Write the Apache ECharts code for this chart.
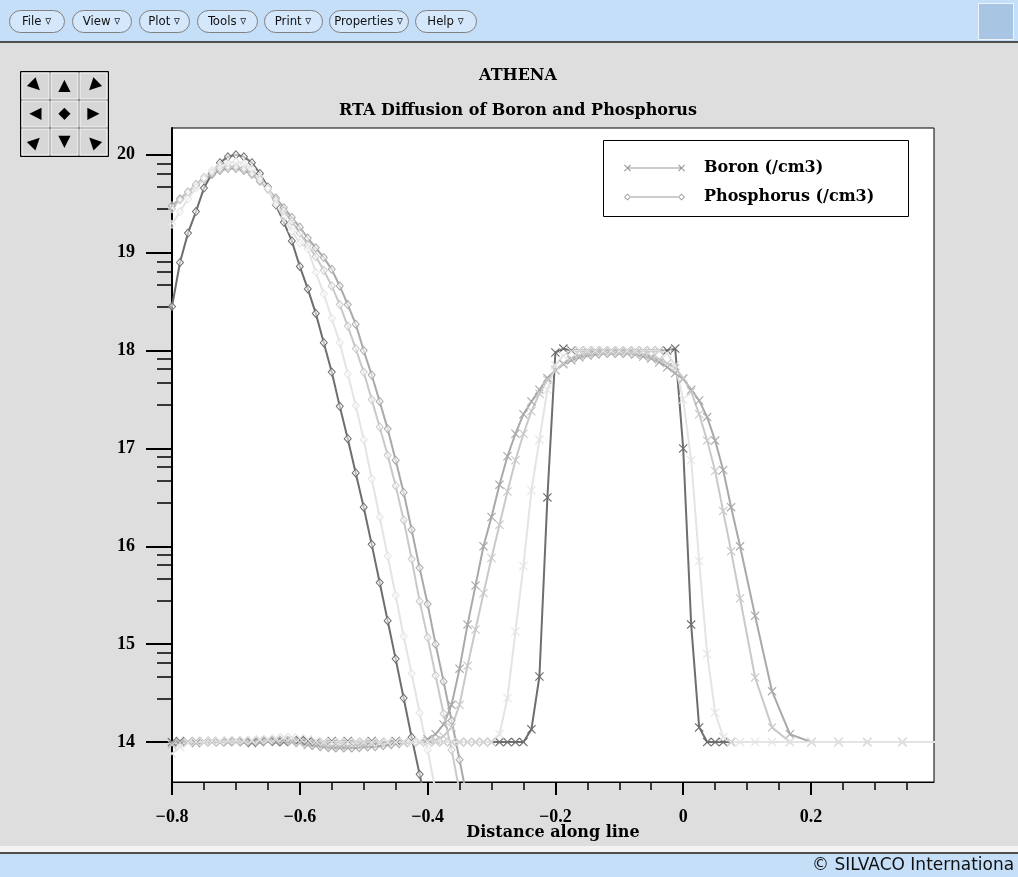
<!DOCTYPE html>
<html><head><meta charset="utf-8">
<script src="https://cdn.jsdelivr.net/npm/echarts@6/dist/echarts.min.js"></script>
<style>html,body{margin:0;padding:0;background:#dedede;}#c{width:1018px;height:877px;}</style>
</head><body><div id="c"></div>
<script>
// ---------------- data ----------------
const xGrid = [-0.8,-0.7875,-0.775,-0.7625,-0.75,-0.7375,-0.725,-0.7125,-0.7,-0.6875,
 -0.675,-0.6625,-0.65,-0.6375,-0.625,-0.6125,-0.6,-0.5875,-0.575,-0.5625,
 -0.55,-0.5375,-0.525,-0.5125,-0.5,-0.4875,-0.475,-0.4625,-0.45,-0.4375,
 -0.425,-0.4125,-0.4,-0.3875,-0.375,-0.3625,-0.35,-0.3375,-0.325,-0.3125,
 -0.3,-0.2875,-0.275,-0.2625,-0.25,-0.2375,-0.225,-0.2125,-0.2,-0.1875,
 -0.175,-0.1625,-0.15,-0.1375,-0.125,-0.1125,-0.1,-0.0875,-0.075,-0.0625,
 -0.05,-0.0375,-0.025,-0.0125,0,0.0125,0.025,0.0375,0.05,0.0625,
 0.075,0.089,0.1125,0.139,0.167,0.201,0.243,0.288,0.343,0.41];

// Boron, initial profile (dark)
const boronT0 = [14.0,14.01,14.0,13.99,14.0,14.01,14.0,14.0,14.01,14.0,
 13.99,14.0,14.01,14.0,14.0,14.01,14.02,14.01,14.0,14.0,
 14.01,14.0,14.01,14.0,14.0,14.01,14.0,14.0,14.01,14.0,
 14.0,14.0,14.0,14.0,14.0,14.0,14.0,14.0,14.0,14.0,
 14.0,14.0,14.0,14.0,14.0,14.13,14.67,16.5,17.98,18.02,
 18.0,18.0,18.0,18.0,18.0,18.0,18.0,18.0,18.0,18.0,
 18.0,18.0,18.0,18.02,17.0,15.2,14.15,14.0,14.0,14.0,14.0];
// Boron, lightest curve
const boronT1 = [13.88,13.95,13.99,14.0,14.0,14.01,14.01,14.02,14.02,14.02,
 14.02,14.03,14.03,14.04,14.05,14.05,14.04,14.03,14.01,14.0,
 14.0,14.0,14.0,14.0,14.0,14.0,14.0,14.0,14.0,14.0,
 14.0,14.0,14.0,14.0,14.0,14.0,14.0,14.0,14.0,14.0,
 14.0,14.08,14.45,15.13,15.8,16.57,17.09,17.6,17.85,17.95,
 17.99,18.0,18.0,18.0,18.0,18.0,18.0,18.0,18.0,18.0,
 18.0,18.0,17.97,17.85,17.5,16.88,15.85,14.9,14.3,14.05,
 14.0,14.0,14.0,14.0,14.0,14.0,14.0,14.0,14.0,14.0];
// Boron, light grey curve
const boronT2 = [13.97,13.99,14.0,14.0,14.01,14.01,14.0,14.0,14.0,14.01,
 14.01,14.02,14.02,14.02,14.02,14.01,14.0,13.99,13.98,13.97,
 13.96,13.96,13.96,13.97,13.97,13.98,13.99,14.0,14.0,14.0,
 14.0,14.0,14.0,14.02,14.06,14.15,14.38,14.78,15.15,15.52,
 15.88,16.22,16.56,16.88,17.15,17.38,17.56,17.7,17.8,17.87,
 17.92,17.95,17.97,17.98,17.98,17.98,17.98,17.98,17.97,17.96,
 17.94,17.91,17.87,17.82,17.72,17.58,17.35,17.08,16.77,16.36,
 15.95,15.47,14.66,14.15,14.0,14.0,14.0,14.0,14.0,14.0];
// Boron, medium grey curve
const boronT3 = [13.99,14.0,14.0,14.01,14.0,14.0,14.0,14.01,14.01,14.0,
 14.0,14.0,14.01,14.01,14.01,14.0,13.99,13.97,13.96,13.95,
 13.94,13.94,13.94,13.94,13.95,13.95,13.96,13.97,13.98,13.99,
 14.0,14.0,14.03,14.08,14.18,14.38,14.75,15.2,15.6,16.0,
 16.3,16.63,16.92,17.15,17.35,17.48,17.6,17.72,17.8,17.86,
 17.9,17.93,17.95,17.96,17.97,17.97,17.97,17.97,17.96,17.94,
 17.92,17.88,17.83,17.77,17.71,17.6,17.49,17.32,17.08,16.78,
 16.4,16.0,15.29,14.52,14.08,14.0,14.0,14.0,14.0,14.0];

// Phosphorus
const phosT0 = [18.45,18.9,19.2,19.42,19.66,19.81,19.92,19.98,20.0,19.98,
 19.92,19.81,19.67,19.49,19.31,19.12,18.86,18.63,18.38,18.08,
 17.78,17.43,17.1,16.75,16.4,16.02,15.63,15.24,14.85,14.45,
 14.05,13.67,13.3];
const phosT1 = [19.29,19.42,19.55,19.66,19.76,19.84,19.89,19.92,19.93,19.91,
 19.86,19.77,19.66,19.5,19.36,19.22,19.1,19.04,18.8,18.58,
 18.33,18.08,17.76,17.44,17.09,16.69,16.3,15.9,15.5,15.08,
 14.7,14.3,13.92,13.5];
const phosT2 = [19.45,19.54,19.62,19.7,19.77,19.82,19.86,19.88,19.88,19.86,
 19.81,19.74,19.65,19.54,19.43,19.32,19.2,19.08,18.96,18.82,
 18.66,18.47,18.25,18.02,17.78,17.5,17.22,16.93,16.62,16.27,
 15.87,15.44,15.07,14.68,14.29,13.92,13.5];
const phosT3 = [19.48,19.55,19.62,19.69,19.75,19.8,19.84,19.86,19.86,19.84,
 19.8,19.73,19.65,19.56,19.46,19.36,19.26,19.15,19.05,18.95,
 18.83,18.66,18.47,18.27,18.0,17.75,17.48,17.2,16.88,16.55,
 16.17,15.78,15.41,15.0,14.62,14.22,13.82,13.4];

const yMajorTicks = [14,15,16,17,18,19,20];
const yMinorTicks = [19.912,19.81,19.672,19.444, 18.912,18.81,18.672,18.444,
 17.912,17.81,17.672,17.444, 16.912,16.81,16.672,16.444,
 15.912,15.81,15.672,15.444, 14.912,14.81,14.672,14.444];
const xMajorTicks = [-0.8,-0.6,-0.4,-0.2,0,0.2];
const xMinorTicks = [-0.75,-0.7,-0.65,-0.55,-0.5,-0.45,-0.35,-0.3,-0.25,-0.15,-0.1,-0.05,0.05,0.1,0.15,0.25,0.3,0.35];

const menuItems = ['File','View','Plot','Tools','Print','Properties','Help'];

// ---------------- chart ----------------
const chart = echarts.init(document.getElementById('c'), null, {renderer:'canvas'});
const pairs = arr => arr.map((v,i) => [xGrid[i], v]);
const C = {t0:'#6e6e6e', t1:'#e4e4e4', t2:'#c9c9c9', t3:'#a9a9a9'};
const X_SYMBOL = 'path://M0,0.9L0.9,0L5,4.1L9.1,0L10,0.9L5.9,5L10,9.1L9.1,10L5,5.9L0.9,10L0,9.1L4.1,5Z';
const BORON_ICON = 'path://M0.5,1.8L1.3,1L7.5,7.2L6.7,8Z M6.7,1L7.5,1.8L1.3,8L0.5,7.2Z M4,4L58,4L58,5L4,5Z M54.5,1.8L55.3,1L61.5,7.2L60.7,8Z M60.7,1L61.5,1.8L55.3,8L54.5,7.2Z M75.5,4.5L75.5,4.5Z';
const PHOS_ICON = 'path://M4,1L7.5,4.5L4,8L0.5,4.5Z M4,2.2L1.7,4.5L4,6.8L6.3,4.5Z M7.5,4L54.5,4L54.5,5L7.5,5Z M58,1L61.5,4.5L58,8L54.5,4.5Z M58,2.2L55.7,4.5L58,6.8L60.3,4.5Z M75.5,4.5L75.5,4.5Z';

function bSeries(arr, col){
  return {type:'line', name:'Boron (/cm3)', data:pairs(arr), symbol:X_SYMBOL, symbolSize:9,
    showAllSymbol:true, clip:true, silent:true,
    lineStyle:{color:col, width:2}, itemStyle:{color:col, borderWidth:0}};
}
function pSeries(arr, col){
  return {type:'line', name:'Phosphorus (/cm3)', data:pairs(arr), symbol:'diamond', symbolSize:[7,8],
    showAllSymbol:true, clip:true, silent:true,
    lineStyle:{color:col, width:2}, itemStyle:{color:'rgba(255,255,255,0.55)', borderColor:col, borderWidth:1}};
}

const serifB = {fontFamily:'DejaVu Serif', fontWeight:'bold', fontSize:16, color:'#000'};
const numFont = {fontFamily:'Liberation Serif', fontWeight:'bold', fontSize:18, color:'#000'};
const fmt = v => String(v).replace('-', '\u2212');

const xMin = -0.8, xMax = 0.3925, yMin = 13.592, yMax = 20.274;

const graphic = [];
// menu bar
graphic.push({type:'rect', shape:{x:0,y:0,width:1018,height:41}, style:{fill:'#c5dff8'}});
graphic.push({type:'rect', shape:{x:0,y:41,width:1018,height:2}, style:{fill:'#4e4e4e'}});
const pillX = [[9,64],[72,131],[139,189],[197,257],[264,322],[329,408],[415,476]];
menuItems.forEach((m,i) => {
  const [a,b] = pillX[i];
  graphic.push({type:'rect', shape:{x:a+0.5,y:10.5,width:b-a,height:22,r:11},
    style:{fill:'#d4e7fb', stroke:'#808080', lineWidth:1}});
  graphic.push({type:'text', x:(a+b)/2, y:22,
    style:{text:m+' \u25BF', align:'center', verticalAlign:'middle', fill:'#111',
      font:'13px "DejaVu Sans Condensed", "Liberation Sans", sans-serif'}});
});
graphic.push({type:'rect', shape:{x:978.5,y:3.5,width:35,height:36},
  style:{fill:'#a9c5e4', stroke:'#eef4fb', lineWidth:1}});
// footer
graphic.push({type:'rect', shape:{x:0,y:846,width:1018,height:6}, style:{fill:'#f4f4f4'}});
graphic.push({type:'rect', shape:{x:0,y:852,width:1018,height:2}, style:{fill:'#4e4e4e'}});
graphic.push({type:'rect', shape:{x:0,y:854,width:1018,height:23}, style:{fill:'#c5dff8'}});
graphic.push({type:'text', x:812, y:866,
  style:{text:'\u00A9 SILVACO Internationa', align:'left', verticalAlign:'middle', fill:'#111',
    font:'17px "DejaVu Sans"'}});
// navigation buttons
graphic.push({type:'rect', shape:{x:20.5,y:71.5,width:88,height:85}, style:{fill:'#8a8a8a', stroke:'#000', lineWidth:1}});
const navGlyph = [['\u25B6',-Math.PI/4],['\u25B2',0],['\u25C0',Math.PI/4],
                  ['\u25C0',0],['\u25C6',0],['\u25B6',0],
                  ['\u25B6',Math.PI/4],['\u25BC',0],['\u25C0',-Math.PI/4]];
for (let r=0;r<3;r++) for (let c=0;c<3;c++){
  const x0 = 22 + c*29, y0 = 73 + r*28;
  graphic.push({type:'rect', shape:{x:x0,y:y0,width:27,height:26}, style:{fill:'#d7d7d7', stroke:'#f6f6f6', lineWidth:1}});
  const g = navGlyph[r*3+c];
  graphic.push({type:'text', x:x0+13.5, y:y0+13, rotation:g[1],
    style:{text:g[0], align:'center', verticalAlign:'middle', fill:'#000', font:'16px "DejaVu Sans"'}});
}
// legend box
graphic.push({type:'rect', z:3, shape:{x:603.5,y:140.5,width:305,height:76}, style:{fill:'#fff', stroke:'#000', lineWidth:1}});

const option = {
  animation:false,
  backgroundColor:'#dedede',
  title:[
    {text:'ATHENA', left:518, top:68, textAlign:'center', padding:0, textStyle:serifB},
    {text:'RTA Diffusion of Boron and Phosphorus', left:518, top:103, textAlign:'center', padding:0, textStyle:serifB}
  ],
  legend:{
    left:624, top:158, orient:'vertical', padding:0, itemGap:9,
    itemWidth:75, itemHeight:7, selectedMode:false,
    textStyle:Object.assign({lineHeight:20}, serifB),
    data:[
      {name:'Boron (/cm3)', icon:BORON_ICON, itemStyle:{color:'#9a9a9a', borderWidth:0}},
      {name:'Phosphorus (/cm3)', icon:PHOS_ICON, itemStyle:{color:'#9a9a9a', borderWidth:0}}
    ]
  },
  grid:{left:172, top:128, width:762, height:654, show:true, backgroundColor:'#fff',
    borderColor:'#000', borderWidth:1, containLabel:false, outerBoundsMode:'none'},
  xAxis:[
    {type:'value', min:xMin, max:xMax, position:'bottom',
     name:'Distance along line', nameLocation:'middle', nameGap:43, nameMoveOverlap:false, nameTextStyle:serifB,
     axisLine:{show:true, onZero:false, lineStyle:{color:'#000', width:1}},
     axisTick:{show:true, length:13, customValues:xMajorTicks, lineStyle:{color:'#000', width:2}},
     axisLabel:{show:true, margin:26, customValues:xMajorTicks, formatter:fmt, ...numFont},
     splitLine:{show:false}},
    {type:'value', min:xMin, max:xMax, position:'bottom', offset:0,
     axisLine:{show:false, onZero:false}, axisLabel:{show:false}, splitLine:{show:false},
     axisTick:{show:true, length:8, customValues:xMinorTicks, lineStyle:{color:'#000', width:1.5}}}
  ],
  yAxis:[
    {type:'value', min:yMin, max:yMax, position:'left',
     axisLine:{show:true, onZero:false, lineStyle:{color:'#000', width:2}},
     axisTick:{show:true, length:26, customValues:yMajorTicks, lineStyle:{color:'#000', width:2}},
     axisLabel:{show:true, margin:37, customValues:yMajorTicks, formatter:fmt, ...numFont},
     splitLine:{show:false}},
    {type:'value', min:yMin, max:yMax, position:'left', offset:0,
     axisLine:{show:false, onZero:false}, axisLabel:{show:false}, splitLine:{show:false},
     axisTick:{show:true, length:15, customValues:yMinorTicks, lineStyle:{color:'#000', width:1.5}}}
  ],
  graphic: graphic,
  series:[
    bSeries(boronT0, C.t0), pSeries(phosT0, C.t0),
    bSeries(boronT3, C.t3), pSeries(phosT3, C.t3),
    bSeries(boronT2, C.t2), pSeries(phosT2, C.t2),
    bSeries(boronT1, C.t1), pSeries(phosT1, C.t1)
  ]
};
chart.setOption(option);
</script>
</body></html>
